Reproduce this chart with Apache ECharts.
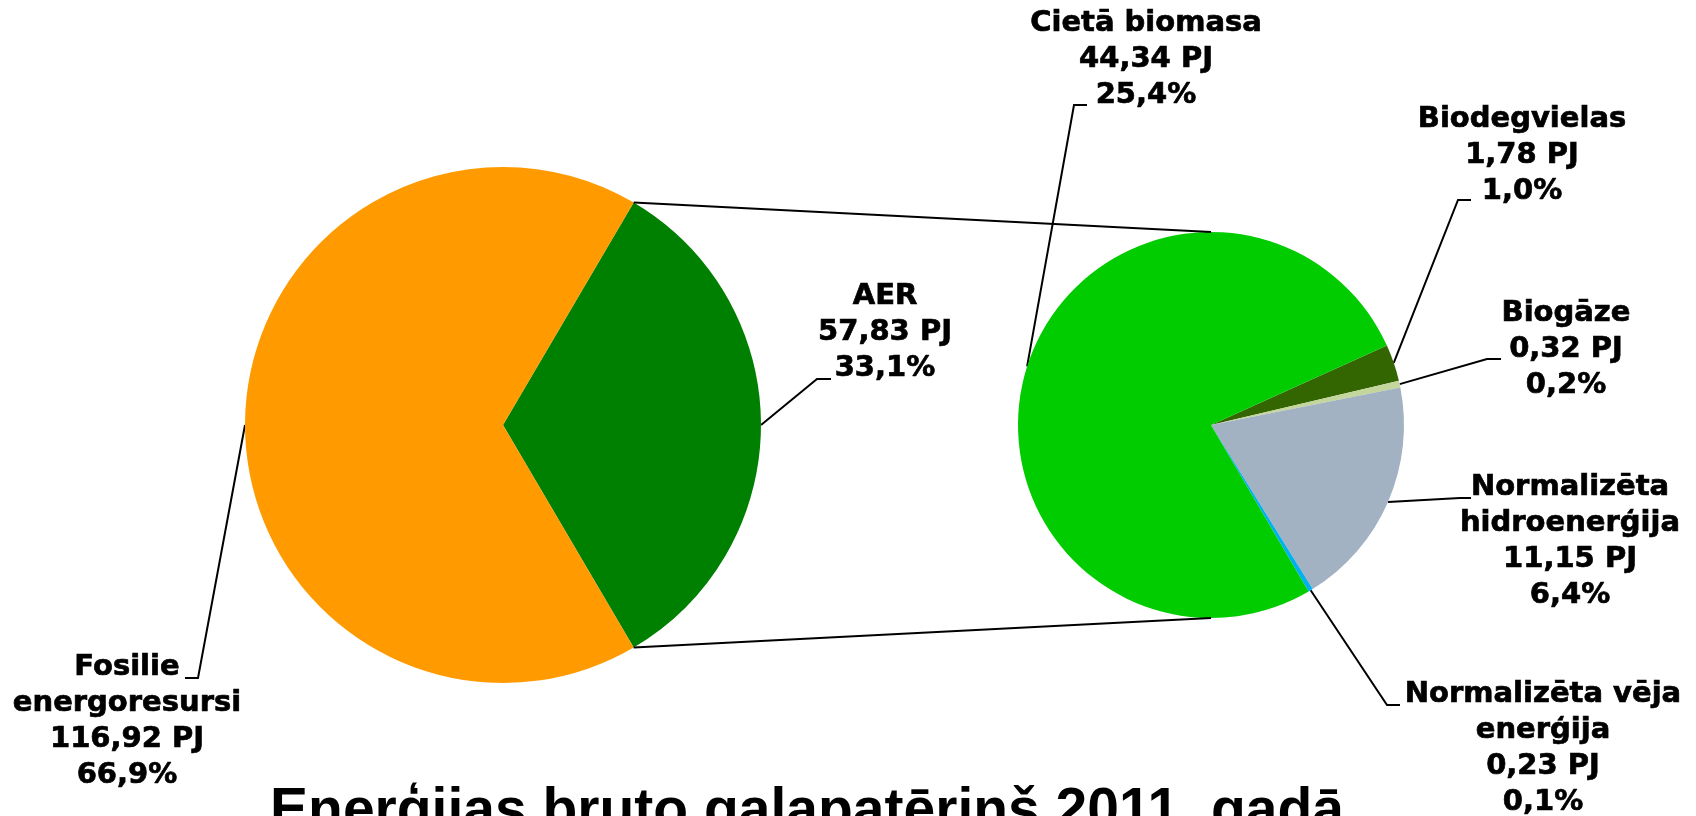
<!DOCTYPE html>
<html>
<head>
<meta charset="utf-8">
<script src="https://cdn.jsdelivr.net/npm/echarts@6/dist/echarts.min.js"></script>
<style>
html,body{margin:0;padding:0;background:#ffffff;}
#chart{width:1696px;height:816px;}
</style>
</head>
<body>
<div id="chart"></div>
<script>
// ---------- data ----------
const mainNames = ['AER', 'Fosilie\nenergoresursi'];
const mainValues = [57.83, 116.92];
const aerNames = ['Biodegvielas', 'Biogāze', 'Normalizēta\nhidroenerģija', 'Normalizēta vēja\nenerģija', 'Cietā biomasa'];
const aerValues = [1.78, 0.32, 11.15, 0.23, 44.34];
const unitLabel = 'PJ';
const titleText = 'Enerģijas bruto galapatēriņš 2011. gadā';

// ---------- styles / layout ----------
const mainColors = ['#008000', '#FF9A00'];
const aerColors = ['#336600', '#C3D69B', '#A2B2C2', '#00B0F0', '#00CC00'];
const LEFT_PIE = { center: [503, 425], radius: 258 };
const RIGHT_PIE = { center: [1211, 425], radius: 193, startAngle: 24.3 };
const mainLabelPos = [
  { x: 885, y: 332, elbow: [817, 379], end: [831, 379] },
  { x: 127, y: 721, elbow: [198, 678], end: [185, 678] }
];
const aerLabelPos = [
  { x: 1522, y: 155, elbow: [1458, 200], end: [1471, 200] },
  { x: 1566, y: 349, elbow: [1487, 359], end: [1501, 359] },
  { x: 1570, y: 541, elbow: [1460, 498], end: [1471, 498] },
  { x: 1543, y: 748, elbow: [1387, 705], end: [1400, 705] },
  { x: 1146, y: 59, elbow: [1074, 105], end: [1087, 105] }
];

const grandTotal = mainValues.reduce((a, b) => a + b, 0);
const fmt = (v, d) => v.toFixed(d).replace('.', ',');
function labelFormatter(p) {
  return p.name + '\n' + fmt(p.value, 2) + ' ' + unitLabel + '\n' + fmt(p.value / grandTotal * 100, 1) + '%';
}
const labelStyle = {
  show: true,
  formatter: labelFormatter,
  fontFamily: 'DejaVu Sans',
  fontWeight: 'bold',
  fontSize: 29,
  lineHeight: 36,
  color: '#000000',
  textBorderColor: '#000000',
  textBorderWidth: 0.7
};
function makeLabelLayout(posArr, pieCfg) {
  return function (params) {
    const pos = posArr[params.dataIndex];
    let start = params.labelLinePoints && params.labelLinePoints[0];
    if (!start) start = [pieCfg.center[0], pieCfg.center[1]];
    return {
      x: pos.x, y: pos.y, align: 'center', verticalAlign: 'middle',
      labelLinePoints: [[start[0], start[1]], pos.elbow, pos.end]
    };
  };
}

const chart = echarts.init(document.getElementById('chart'), null, { renderer: 'canvas' });
const aerShareStart = mainValues[0] / grandTotal * 180;

chart.setOption({
  animation: false,
  backgroundColor: '#ffffff',
  series: [
    {
      type: 'pie',
      center: LEFT_PIE.center,
      radius: LEFT_PIE.radius,
      startAngle: aerShareStart,
      clockwise: true,
      avoidLabelOverlap: false,
      emphasis: { disabled: true },
      itemStyle: { borderWidth: 0 },
      data: mainNames.map((n, i) => ({ name: n, value: mainValues[i], itemStyle: { color: mainColors[i] } })),
      label: labelStyle,
      labelLine: { show: true, smooth: false, lineStyle: { color: '#000000', width: 2 } },
      labelLayout: makeLabelLayout(mainLabelPos, LEFT_PIE)
    },
    {
      type: 'pie',
      center: RIGHT_PIE.center,
      radius: RIGHT_PIE.radius,
      startAngle: RIGHT_PIE.startAngle,
      clockwise: true,
      avoidLabelOverlap: false,
      minShowLabelAngle: 0,
      emphasis: { disabled: true },
      itemStyle: { borderWidth: 0 },
      data: aerNames.map((n, i) => ({ name: n, value: aerValues[i], itemStyle: { color: aerColors[i] } })),
      label: labelStyle,
      labelLine: { show: true, smooth: false, lineStyle: { color: '#000000', width: 2 } },
      labelLayout: makeLabelLayout(aerLabelPos, RIGHT_PIE)
    }
  ]
});

// connector lines between the AER slice and the detail pie, from the library's pie layout
const model = chart.getModel();
const aerLay = model.getSeriesByIndex(0).getData().getItemLayout(0);
const detLay = model.getSeriesByIndex(1).getData().getItemLayout(0);
const p1 = [aerLay.cx + aerLay.r * Math.cos(aerLay.startAngle), aerLay.cy + aerLay.r * Math.sin(aerLay.startAngle)];
const p2 = [aerLay.cx + aerLay.r * Math.cos(aerLay.endAngle), aerLay.cy + aerLay.r * Math.sin(aerLay.endAngle)];
const q1 = [detLay.cx, detLay.cy - detLay.r];
const q2 = [detLay.cx, detLay.cy + detLay.r];

chart.setOption({
  graphic: [
    { type: 'line', shape: { x1: p1[0], y1: p1[1], x2: q1[0], y2: q1[1] }, style: { stroke: '#000000', lineWidth: 2 }, z: 10 },
    { type: 'line', shape: { x1: p2[0], y1: p2[1], x2: q2[0], y2: q2[1] }, style: { stroke: '#000000', lineWidth: 2 }, z: 10 },
    {
      type: 'text', x: 807, y: 784, z: 10,
      style: {
        text: titleText, fill: '#000000',
        fontFamily: 'Liberation Sans', fontWeight: 'bold', fontSize: 57,
        align: 'center', verticalAlign: 'top'
      }
    }
  ]
});
</script>
</body>
</html>
